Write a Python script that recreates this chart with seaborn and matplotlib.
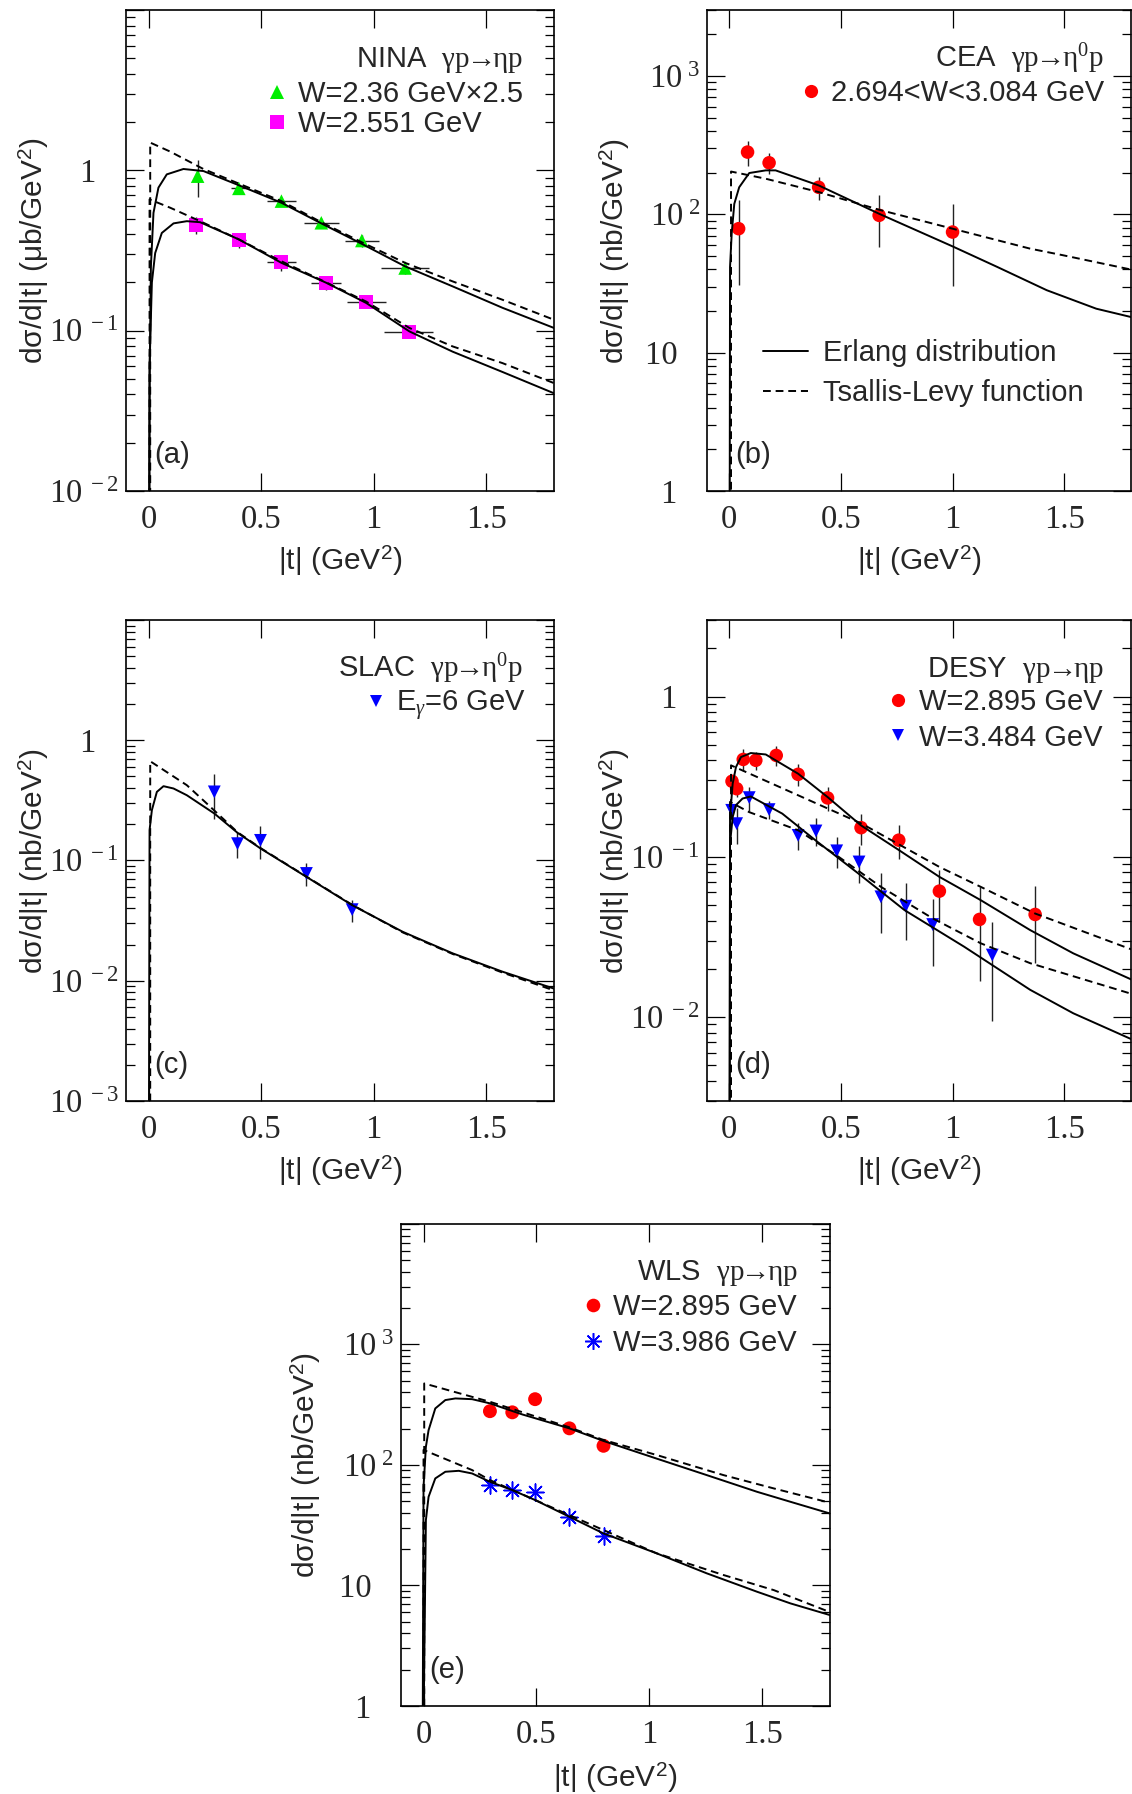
import numpy as np
import matplotlib
matplotlib.use("Agg")
import matplotlib.pyplot as plt
import seaborn as sns
from matplotlib.lines import Line2D
from matplotlib.ticker import LogLocator, NullLocator, NullFormatter

# ---------------- data ----------------
# (a) NINA
a_t_green = [0.218, 0.401, 0.590, 0.767, 0.947, 1.139]
a_y_green = [0.92, 0.772, 0.643, 0.471, 0.365, 0.246]
a_xe_green = [0.0, 0.035, 0.066, 0.077, 0.077, 0.107]
a_ye_green = [0.24, 0.04, 0.04, 0.03, 0.03, 0.02]
a_t_mag = [0.211, 0.401, 0.590, 0.789, 0.966, 1.155]
a_y_mag = [0.457, 0.366, 0.267, 0.199, 0.151, 0.098]
a_xe_mag = [0.0, 0.03, 0.066, 0.066, 0.086, 0.108]
a_ye_mag = [0.055, 0.04, 0.03, 0.02, 0.012, 0.006]
a_erl1_t = [0.0, 0.005, 0.0105, 0.022, 0.044, 0.081, 0.155, 0.244, 0.391, 0.59, 0.767, 0.947, 1.139, 1.35, 1.571, 1.8]
a_erl1_y = [1e-4, 0.05, 0.25, 0.543, 0.78, 0.944, 1.02, 0.99, 0.818, 0.628, 0.467, 0.348, 0.252, 0.189, 0.139, 0.104]
a_erl2_t = [0.0, 0.0046, 0.0149, 0.0296, 0.059, 0.111, 0.17, 0.229, 0.401, 0.59, 0.789, 0.966, 1.158, 1.35, 1.571, 1.8]
a_erl2_y = [1e-4, 0.06, 0.2, 0.305, 0.407, 0.467, 0.482, 0.475, 0.371, 0.265, 0.199, 0.149, 0.099, 0.074, 0.0553, 0.0407]
a_ts1_t = [0.0075, 0.0075, 0.096, 0.2435, 0.59, 0.767, 0.947, 1.139, 1.35, 1.571, 1.8]
a_ts1_y = [1e-4, 1.49, 1.31, 1.02, 0.643, 0.475, 0.356, 0.265, 0.203, 0.156, 0.117]
a_ts2_t = [0.0046, 0.0046, 0.096, 0.229, 0.401, 0.59, 0.789, 0.966, 1.158, 1.35, 1.571, 1.8]
a_ts2_y = [1e-4, 0.659, 0.585, 0.482, 0.371, 0.271, 0.2, 0.152, 0.104, 0.0798, 0.0628, 0.0471]

# (b) CEA
b_t = [0.0415, 0.0815, 0.178, 0.4, 0.671, 1.0]
b_y = [78.8, 282, 236, 157, 98.4, 74.5]
b_ye = [48, 57, 40, 30, 40, 44]
b_erl_t = [0.0, 0.003, 0.0104, 0.022, 0.044, 0.089, 0.163, 0.207, 0.4, 0.671, 1.0, 1.2, 1.422, 1.644, 1.8]
b_erl_y = [1e-2, 41.7, 72.5, 119, 157, 199, 208, 208, 162, 101, 58.7, 41.7, 28.3, 20.8, 18.1]
b_ts_t = [0.0074, 0.0074, 0.163, 0.4, 0.671, 1.0, 1.348, 1.496, 1.8]
b_ts_y = [1e-2, 204, 181, 145, 108, 78.8, 56.5, 50.6, 39.9]

# (c) SLAC
c_t = [0.292, 0.395, 0.497, 0.701, 0.904]
c_y = [0.372, 0.138, 0.147, 0.078, 0.039]
c_ye = [0.15, 0.034, 0.045, 0.017, 0.008]
c_erl_t = [0.0, 0.0046, 0.0149, 0.037, 0.0665, 0.111, 0.170, 0.292, 0.395, 0.497, 0.701, 0.904, 1.129, 1.35, 1.571, 1.8]
c_erl_y = [1e-5, 0.179, 0.262, 0.372, 0.415, 0.397, 0.349, 0.246, 0.170, 0.126, 0.0731, 0.0425, 0.0255, 0.0169, 0.0119, 0.0086]
c_ts_t = [0.0075, 0.0075, 0.170, 0.251, 0.395, 0.497, 0.701, 0.904, 1.129, 1.35, 1.571, 1.8]
c_ts_y = [1e-5, 0.669, 0.423, 0.307, 0.172, 0.127, 0.0735, 0.0428, 0.0252, 0.0167, 0.0117, 0.0083]

# (d) DESY
d_t_red = [0.0119, 0.0326, 0.0622, 0.1185, 0.210, 0.308, 0.44, 0.590, 0.759, 0.941, 1.121, 1.370]
d_y_red = [0.296, 0.266, 0.405, 0.4, 0.429, 0.327, 0.233, 0.152, 0.127, 0.0611, 0.0407, 0.0437]
d_ye_red = [0.02, 0.03, 0.063, 0.05, 0.06, 0.05, 0.04, 0.034, 0.03, 0.022, 0.024, 0.022]
d_t_blue = [0.0104, 0.0326, 0.089, 0.178, 0.308, 0.388, 0.481, 0.581, 0.679, 0.790, 0.911, 1.178]
d_y_blue = [0.195, 0.161, 0.234, 0.197, 0.136, 0.145, 0.109, 0.0929, 0.0563, 0.0492, 0.0378, 0.0244]
d_ye_blue = [0.015, 0.04, 0.04, 0.025, 0.026, 0.029, 0.024, 0.024, 0.023, 0.019, 0.017, 0.015]
d_erl1_t = [0.0, 0.003, 0.0148, 0.0296, 0.052, 0.096, 0.163, 0.308, 0.440, 0.590, 0.756, 0.941, 1.126, 1.348, 1.541, 1.8]
d_erl1_y = [1e-4, 0.177, 0.286, 0.363, 0.419, 0.444, 0.435, 0.330, 0.236, 0.157, 0.111, 0.075, 0.0537, 0.0349, 0.025, 0.0172]
d_erl2_t = [0.0, 0.003, 0.0148, 0.0296, 0.059, 0.096, 0.237, 0.385, 0.578, 0.785, 1.052, 1.348, 1.541, 1.8]
d_erl2_y = [1e-4, 0.121, 0.177, 0.210, 0.231, 0.238, 0.186, 0.127, 0.0787, 0.0465, 0.0275, 0.0148, 0.01057, 0.0073]
d_ts1_t = [0.0074, 0.0074, 0.311, 0.593, 0.941, 1.126, 1.370, 1.8]
d_ts1_y = [1e-4, 0.372, 0.241, 0.161, 0.0865, 0.065, 0.0443, 0.0265]
d_ts2_t = [0.003, 0.003, 0.089, 0.308, 0.481, 0.679, 0.911, 1.126, 1.348, 1.8]
d_ts2_y = [1e-4, 0.22, 0.190, 0.1465, 0.102, 0.065, 0.0413, 0.0289, 0.0217, 0.0140]

# (e) WLS
e_t = [0.294, 0.393, 0.494, 0.646, 0.797]
e_y_red = [279, 273, 351, 201, 144]
e_y_blue = [67.9, 61.8, 59.8, 37.1, 25.6]
e_erl1_t = [-0.005, 0.0, 0.0104, 0.0223, 0.052, 0.0965, 0.141, 0.215, 0.294, 0.438, 0.646, 0.797, 1.031, 1.254, 1.477, 1.625, 1.8]
e_erl1_y = [0.1, 65.8, 141, 194, 294, 345, 356, 351, 324, 262, 201, 158, 113, 82.3, 59.8, 49.4, 39.5]
e_erl2_t = [-0.005, 0.0104, 0.0223, 0.052, 0.0965, 0.156, 0.215, 0.294, 0.393, 0.494, 0.646, 0.797, 1.031, 1.254, 1.477, 1.625, 1.8]
e_erl2_y = [0.1, 34.8, 54.3, 77.2, 87.7, 89.3, 84.9, 72.4, 61.8, 51.1, 37.1, 27.0, 18.5, 12.6, 8.86, 7.09, 5.67]
e_ts1_t = [0.003, 0.003, 0.215, 0.294, 0.646, 0.797, 1.031, 1.328, 1.551, 1.8]
e_ts1_y = [0.1, 474, 367, 334, 205, 161, 121, 82.3, 63.8, 48.5]
e_ts2_t = [0.0, 0.0, 0.215, 0.294, 0.646, 1.031, 1.328, 1.551, 1.8]
e_ts2_y = [0.1, 133, 90.6, 74.8, 38.3, 18.5, 12.2, 9.14, 6.0]

x_ticks = [0, 0.5, 1, 1.5]
x_ticklabels = ["0", "0.5", "1", "1.5"]
ONE = "1\u2002\u2009"
TEN = "10\u2002\u2009"
a_yticks = [0.01, 0.1, 1, 10]
a_ylabels = [r"$\mathrm{10^{\ -2}}$", r"$\mathrm{10^{\ -1}}$", ONE, ""]
b_yticks = [1, 10, 100, 1000]
b_ylabels = [ONE, TEN, r"$\mathrm{10^{\ 2}}$", r"$\mathrm{10^{\ 3}}$"]
c_yticks = [0.001, 0.01, 0.1, 1, 10]
c_ylabels = [r"$\mathrm{10^{\ -3}}$", r"$\mathrm{10^{\ -2}}$", r"$\mathrm{10^{\ -1}}$", ONE, ""]
d_yticks = [0.01, 0.1, 1]
d_ylabels = [r"$\mathrm{10^{\ -2}}$", r"$\mathrm{10^{\ -1}}$", ONE]
e_yticks = [1, 10, 100, 1000, 10000]
e_ylabels = [ONE, TEN, r"$\mathrm{10^{\ 2}}$", r"$\mathrm{10^{\ 3}}$", ""]

# ---------------- style ----------------
sns.set_theme(style="ticks")
plt.rcParams["font.family"] = ["Liberation Sans", "DejaVu Sans"]
plt.rcParams["mathtext.fontset"] = "custom"
plt.rcParams["mathtext.rm"] = "Liberation Serif"
plt.rcParams["mathtext.it"] = "Liberation Serif:italic"
plt.rcParams["mathtext.bf"] = "Liberation Serif:bold"
plt.rcParams["mathtext.sf"] = "Liberation Sans"
plt.rcParams["axes.linewidth"] = 1.2
plt.rcParams["axes.edgecolor"] = "black"

TICK = 23.5
LAB = 21.5
LEG = 21
DASH = (0, (4, 2.5))
SERIF = ["Liberation Serif", "DejaVu Serif"]

fig = plt.figure(figsize=(11.32, 17.94), dpi=100)
ax_a = fig.add_axes([0.1113, 0.7263, 0.3781, 0.2681])
ax_b = fig.add_axes([0.6246, 0.7263, 0.3746, 0.2681])
ax_c = fig.add_axes([0.1113, 0.3863, 0.3781, 0.2681])
ax_d = fig.add_axes([0.6246, 0.3863, 0.3746, 0.2681])
ax_e = fig.add_axes([0.3542, 0.0491, 0.3790, 0.2687])


def curve(ax, t, y, dashed=False):
    sns.lineplot(x=t, y=y, ax=ax, estimator=None, sort=False, color="black",
                 linewidth=1.4, linestyle=DASH if dashed else "-", zorder=4, legend=False)


def points(ax, t, y, marker, color, s, yerr=None, xerr=None):
    if yerr is not None or xerr is not None:
        ax.errorbar(t, y, yerr=yerr, xerr=xerr, fmt="none", ecolor="#222222",
                    elinewidth=1.0, capsize=0, zorder=2)
    sns.scatterplot(x=t, y=y, ax=ax, marker=marker, s=s, color=color,
                    edgecolor="none", linewidth=0, zorder=3, legend=False)


def setup(ax, ylim, yticks, ylabels, ylabel, tag, lab_x, lab_y):
    ax.set_yscale("log")
    ax.set_xlim(-0.1, 1.8)
    ax.set_ylim(*ylim)
    ax.set_xticks(x_ticks, labels=x_ticklabels, fontfamily=SERIF, fontsize=TICK)
    ax.xaxis.set_minor_locator(NullLocator())
    ax.set_yticks(yticks, labels=ylabels, fontfamily=SERIF, fontsize=TICK)
    ax.yaxis.set_minor_locator(LogLocator(base=10, subs=np.arange(2, 10), numticks=50))
    ax.yaxis.set_minor_formatter(NullFormatter())
    ax.set_ylim(*ylim)
    ax.tick_params(which="both", direction="in", top=True, right=True, color="black", width=0.9)
    ax.tick_params(which="major", length=13)
    ax.tick_params(which="minor", length=6.5)
    ax.tick_params(axis="x", pad=10)
    ax.tick_params(axis="y", pad=5)
    for sp in ax.spines.values():
        sp.set_color("black")
        sp.set_linewidth(1.2)
    ax.set_xlabel("|t| (GeV$^{\\mathsf{2}}$)", fontsize=LAB, va="center")
    ax.xaxis.set_label_coords(0.5, lab_y)
    ax.set_ylabel(ylabel, fontsize=LAB, va="center")
    ax.yaxis.set_label_coords(lab_x, 0.5)
    ax.text(0.066, 0.074, tag, transform=ax.transAxes, fontsize=LEG, ha="left", va="center")


def header(ax, x, y, txt):
    ax.text(x, y, txt, transform=ax.transAxes, ha="right", va="baseline", fontsize=LEG)


def mlegend(ax, handles, labels, anchor, spacing=0.05):
    return ax.legend(handles, labels, loc="center left", bbox_to_anchor=anchor, frameon=False,
                     fontsize=LEG, handlelength=1.0, handletextpad=0.2, labelspacing=spacing,
                     borderpad=0, borderaxespad=0)


def mk(marker, color, ms):
    return Line2D([], [], ls="none", marker=marker, color=color, markersize=ms, markeredgewidth=0)


# ---------------- (a) ----------------
points(ax_a, a_t_green, a_y_green, "^", "#00ee00", 95, a_ye_green, a_xe_green)
points(ax_a, a_t_mag, a_y_mag, "s", "#ff00ff", 100, a_ye_mag, a_xe_mag)
curve(ax_a, a_erl1_t, a_erl1_y)
curve(ax_a, a_erl2_t, a_erl2_y)
curve(ax_a, a_ts1_t, a_ts1_y, True)
curve(ax_a, a_ts2_t, a_ts2_y, True)
setup(ax_a, (1e-2, 10), a_yticks, a_ylabels, "d\u03c3/d|t| (\u03bcb/GeV$^{\\mathsf{2}}$)", "(a)", -0.215, -0.1455)
header(ax_a, 0.928, 0.8815, r"NINA  $\mathrm{\gamma p\!\!\rightarrow\!\!\eta p}$")
mlegend(ax_a, [mk("^", "#00ee00", 9.5), mk("s", "#ff00ff", 9.5)],
        ["W=2.36 GeV\u00d72.5", "W=2.551 GeV"], (0.319, 0.794), 0.05)

# ---------------- (b) ----------------
points(ax_b, b_t, b_y, "o", "#ff0000", 95, b_ye)
curve(ax_b, b_erl_t, b_erl_y)
curve(ax_b, b_ts_t, b_ts_y, True)
setup(ax_b, (1, 3000), b_yticks, b_ylabels, "d\u03c3/d|t| (nb/GeV$^{\\mathsf{2}}$)", "(b)", -0.217, -0.1455)
header(ax_b, 0.936, 0.8815, r"CEA  $\mathrm{\gamma p\!\!\rightarrow\!\!\eta^{0}p}$")
leg_b = mlegend(ax_b, [mk("o", "#ff0000", 9.5)], ["2.694<W<3.084 GeV"], (0.210, 0.827))
ax_b.add_artist(leg_b)
ax_b.legend([Line2D([], [], color="black", lw=1.4), Line2D([], [], color="black", lw=1.4, ls=DASH)],
            ["Erlang distribution", "Tsallis-Levy function"], loc="center left",
            bbox_to_anchor=(0.132, 0.245), frameon=False, fontsize=LEG, handlelength=1.54,
            handletextpad=0.5, labelspacing=0.4, borderpad=0, borderaxespad=0)

# ---------------- (c) ----------------
points(ax_c, c_t, c_y, "v", "#0000ff", 85, c_ye)
curve(ax_c, c_erl_t, c_erl_y)
curve(ax_c, c_ts_t, c_ts_y, True)
setup(ax_c, (1e-3, 10), c_yticks, c_ylabels, "d\u03c3/d|t| (nb/GeV$^{\\mathsf{2}}$)", "(c)", -0.215, -0.1455)
header(ax_c, 0.928, 0.8815, r"SLAC  $\mathrm{\gamma p\!\!\rightarrow\!\!\eta^{0}p}$")
mlegend(ax_c, [mk("v", "#0000ff", 9.2)], ["E$_{\\gamma}$=6 GeV"], (0.550, 0.823))

# ---------------- (d) ----------------
points(ax_d, d_t_red, d_y_red, "o", "#ff0000", 95, d_ye_red)
points(ax_d, d_t_blue, d_y_blue, "v", "#0000ff", 85, d_ye_blue)
curve(ax_d, d_erl1_t, d_erl1_y)
curve(ax_d, d_erl2_t, d_erl2_y)
curve(ax_d, d_ts1_t, d_ts1_y, True)
curve(ax_d, d_ts2_t, d_ts2_y, True)
setup(ax_d, (3e-3, 3), d_yticks, d_ylabels, "d\u03c3/d|t| (nb/GeV$^{\\mathsf{2}}$)", "(d)", -0.217, -0.1455)
header(ax_d, 0.936, 0.8815, r"DESY  $\mathrm{\gamma p\!\!\rightarrow\!\!\eta p}$")
mlegend(ax_d, [mk("o", "#ff0000", 9.5), mk("v", "#0000ff", 9.2)],
        ["W=2.895 GeV", "W=3.484 GeV"], (0.417, 0.792), 0.25)

# ---------------- (e) ----------------
points(ax_e, e_t, e_y_red, "o", "#ff0000", 100)
sns.scatterplot(x=e_t, y=e_y_blue, ax=ax_e, marker=(8, 2, 0), s=150, color="#0000ff",
                linewidth=1.1, zorder=3, legend=False)
curve(ax_e, e_erl1_t, e_erl1_y)
curve(ax_e, e_erl2_t, e_erl2_y)
curve(ax_e, e_ts1_t, e_ts1_y, True)
curve(ax_e, e_ts2_t, e_ts2_y, True)
setup(ax_e, (1, 1e4), e_yticks, e_ylabels, "d\u03c3/d|t| (nb/GeV$^{\\mathsf{2}}$)", "(e)", -0.222, -0.149)
header(ax_e, 0.925, 0.884, r"WLS  $\mathrm{\gamma p\!\!\rightarrow\!\!\eta p}$")
star = Line2D([], [], ls="none", marker=(8, 2, 0), color="#0000ff", markersize=12, markeredgewidth=1.1)
mlegend(ax_e, [mk("o", "#ff0000", 9.8), star], ["W=2.895 GeV", "W=3.986 GeV"], (0.4135, 0.790), 0.25)

fig.savefig("out.png", dpi=100)
